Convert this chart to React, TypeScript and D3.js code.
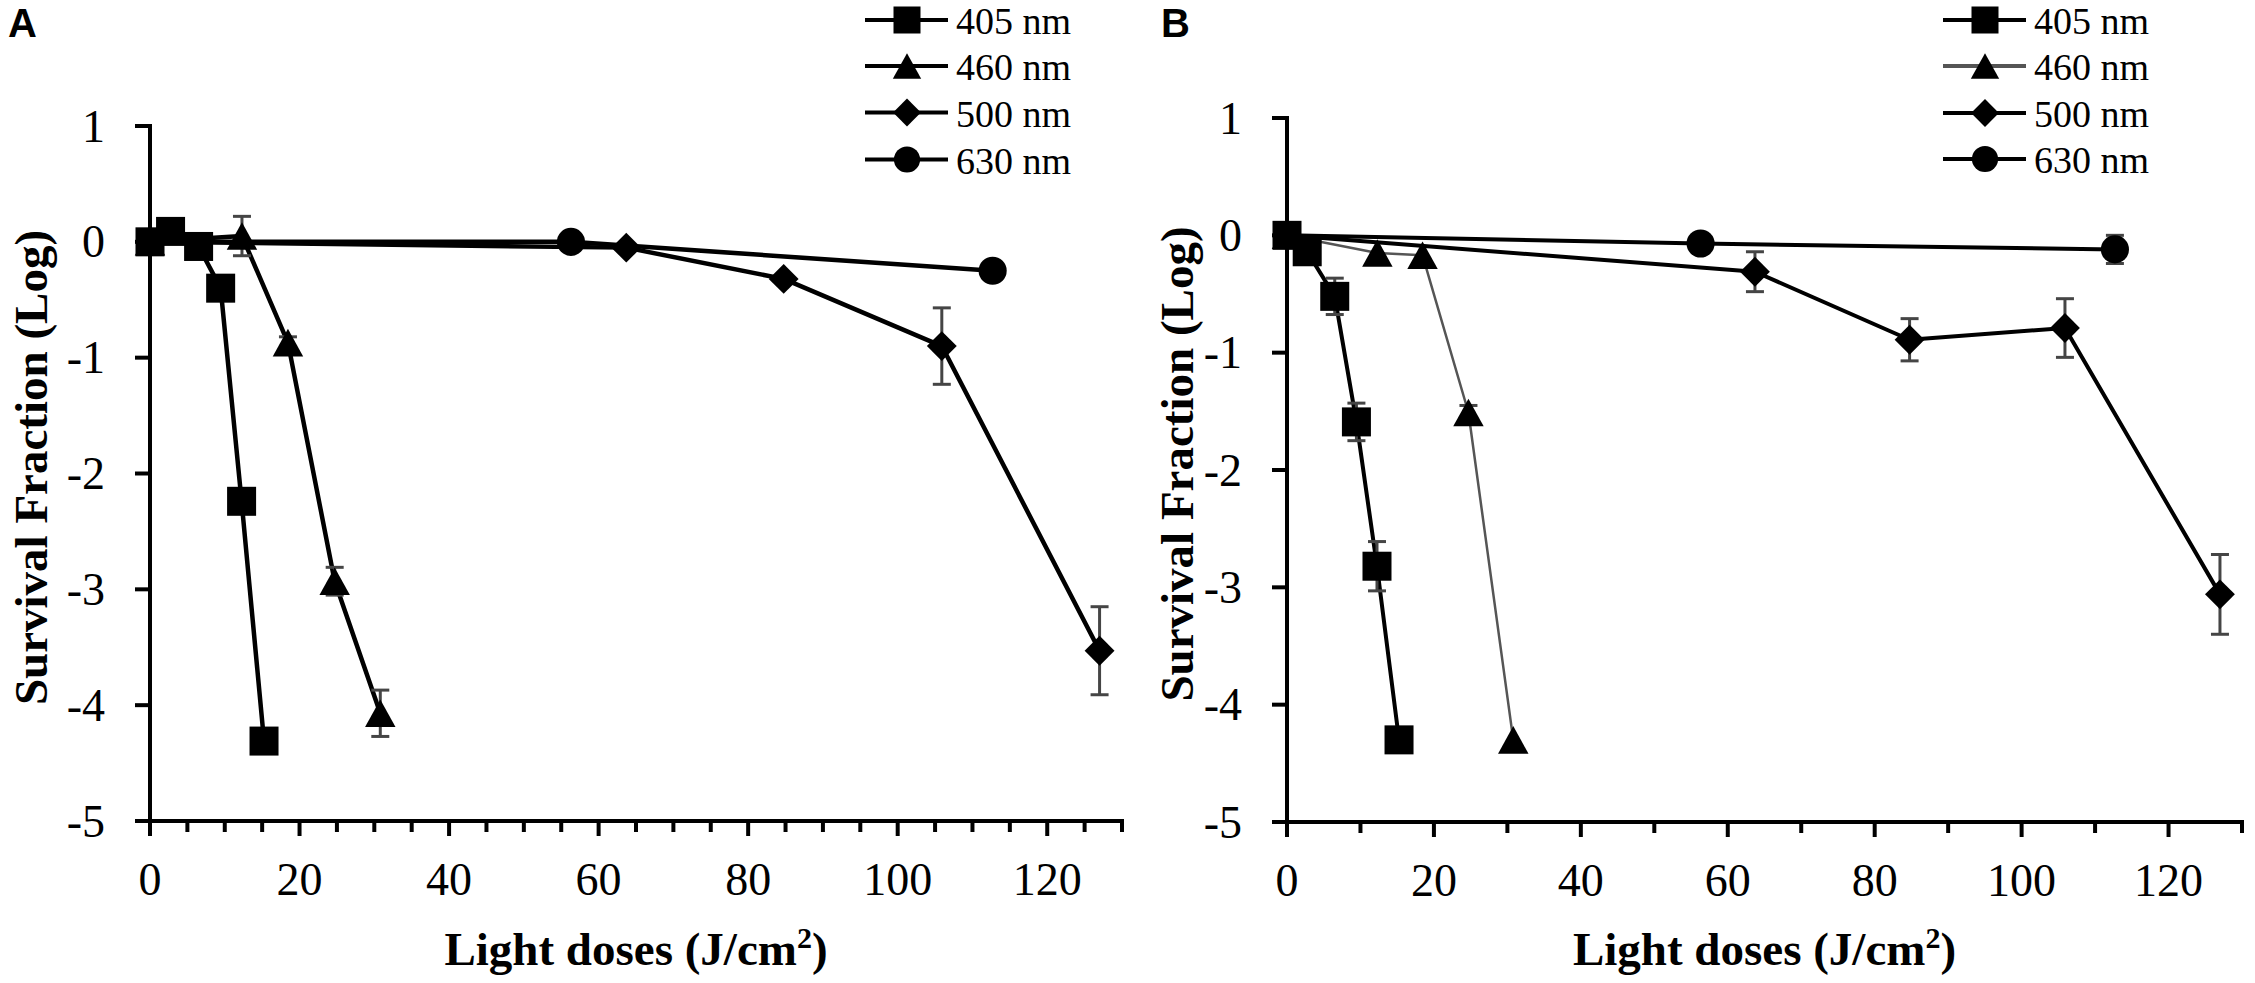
import React from 'react';
import * as d3 from 'd3';

// ---------- data ----------
const seriesNames = ['405 nm', '460 nm', '500 nm', '630 nm'];
const seriesShapes = ['square', 'triangle', 'diamond', 'circle'];

const dose405 = [0, 2.75, 6.5, 9.45, 12.25, 15.25];
const dose460 = [0, 12.3, 18.45, 24.7, 30.8];
const dose500 = [0, 63.7, 84.75, 105.9, 127];
const dose630 = [0, 56.3, 112.7];

const survA405 = [0, 0.09, -0.04, -0.4, -2.24, -4.31];
const errA405 = [0, 0, 0, 0, 0, 0];
const survA460 = [0, 0.05, -0.87, -2.93, -4.07];
const errA460 = [0, 0.17, 0.05, 0.12, 0.2];
const survA500 = [0, -0.05, -0.32, -0.9, -3.53];
const errA500 = [0, 0, 0.03, 0.33, 0.38];
const survA630 = [0, 0, -0.25];
const errA630 = [0, 0, 0];

const survB405 = [0, -0.14, -0.52, -1.59, -2.82, -4.3];
const errB405 = [0, 0, 0.155, 0.16, 0.21, 0];
const survB460 = [0, -0.15, -0.17, -1.51, -4.3];
const errB460 = [0, 0, 0, 0.06, 0];
const survB500 = [0, -0.31, -0.89, -0.79, -3.06];
const errB500 = [0, 0.17, 0.18, 0.25, 0.34];
const survB630 = [0, -0.07, -0.12];
const errB630 = [0, 0, 0.12];

const xMajorTicks = [0, 20, 40, 60, 80, 100, 120];
const yTicks = [1, 0, -1, -2, -3, -4, -5];
const xDomain = [0, 130];
const yDomain = [-5, 1];

const doses = [dose405, dose460, dose500, dose630];

// ---------- drawing helpers ----------
const SERIF = '"Liberation Serif", "Times New Roman", serif';
const SANS = '"Liberation Sans", Arial, sans-serif';
const ERR_COLOR = '#454545';

function Marker({ shape, x, y, s }: { shape: string; x: number; y: number; s: number }) {
  const h = s / 2;
  if (shape === 'square') return <rect x={x - h} y={y - h} width={s} height={s} fill="#000" />;
  if (shape === 'triangle')
    return <path d={`M${x},${y - h * 0.95}L${x + h * 1.05},${y + h * 0.95}L${x - h * 1.05},${y + h * 0.95}Z`} fill="#000" />;
  if (shape === 'diamond')
    return <path d={`M${x},${y - h * 1.03}L${x + h * 1.03},${y}L${x},${y + h * 1.03}L${x - h * 1.03},${y}Z`} fill="#000" />;
  return <circle cx={x} cy={y} r={h * 0.97} fill="#000" />;
}

type PanelProps = {
  letter: string;
  letterX: number;
  x0: number;
  x1: number;
  yTop: number;
  yBot: number;
  minorStep: number;
  surv: number[][];
  errs: number[][];
  lineColors: string[];
  lineWidths: number[];
  legendX: number;
  legendRows: number[];
  yTitleX: number;
};

function Panel(p: PanelProps) {
  const x = d3.scaleLinear().domain(xDomain).range([p.x0, p.x1]);
  const y = d3.scaleLinear().domain(yDomain).range([p.yBot, p.yTop]);
  const minorTicks = d3.range(0, 130 + 0.001, p.minorStep).filter((v) => v % 20 !== 0);
  const line = d3
    .line<[number, number]>()
    .x((d) => x(d[0]))
    .y((d) => y(d[1]));
  const axisW = 4;
  const mSize = 29;

  return (
    <g>
      <text x={p.letterX} y={37} fontFamily={SANS} fontWeight="bold" fontSize={40}>
        {p.letter}
      </text>

      {/* series lines */}
      {p.surv.map((vals, i) => (
        <path
          key={'l' + i}
          d={line(vals.map((v, j) => [doses[i][j], v]) as [number, number][]) || ''}
          fill="none"
          stroke={p.lineColors[i]}
          strokeWidth={p.lineWidths[i]}
          strokeLinejoin="round"
        />
      ))}

      {/* error bars */}
      {p.surv.map((vals, i) =>
        vals.map((v, j) => {
          const e = p.errs[i][j];
          if (!e) return null;
          const cx = x(doses[i][j]);
          return (
            <g key={`e${i}-${j}`} stroke={ERR_COLOR} strokeWidth={3}>
              <line x1={cx} x2={cx} y1={y(v + e)} y2={y(v - e)} />
              <line x1={cx - 9} x2={cx + 9} y1={y(v + e)} y2={y(v + e)} />
              <line x1={cx - 9} x2={cx + 9} y1={y(v - e)} y2={y(v - e)} />
            </g>
          );
        })
      )}

      {/* markers */}
      {p.surv.map((vals, i) =>
        vals.map((v, j) => (
          <Marker key={`m${i}-${j}`} shape={seriesShapes[i]} x={x(doses[i][j])} y={y(v)} s={mSize} />
        ))
      )}

      {/* axes */}
      <line x1={p.x0} x2={p.x0} y1={y(1) - axisW / 2} y2={p.yBot + axisW / 2} stroke="#000" strokeWidth={axisW} />
      <line x1={p.x0 - 15} x2={p.x1 + axisW / 2} y1={p.yBot} y2={p.yBot} stroke="#000" strokeWidth={axisW} />
      {yTicks.map((t) => (
        <g key={'yt' + t}>
          <line x1={p.x0 - 15} x2={p.x0} y1={y(t)} y2={y(t)} stroke="#000" strokeWidth={axisW} />
          <text
            x={p.x0 - 45}
            y={y(t)}
            dy="0.34em"
            textAnchor="end"
            fontFamily={SERIF}
            fontSize={46}
          >
            {String(t)}
          </text>
        </g>
      ))}
      {xMajorTicks.map((t) => (
        <g key={'xt' + t}>
          <line x1={x(t)} x2={x(t)} y1={p.yBot} y2={p.yBot + 15} stroke="#000" strokeWidth={axisW} />
          <text x={x(t)} y={p.yBot + 74} textAnchor="middle" fontFamily={SERIF} fontSize={46}>
            {String(t)}
          </text>
        </g>
      ))}
      {minorTicks.map((t) => (
        <line key={'xm' + t} x1={x(t)} x2={x(t)} y1={p.yBot} y2={p.yBot + 11} stroke="#000" strokeWidth={axisW} />
      ))}

      {/* axis titles */}
      <text
        x={(p.x0 + p.x1) / 2}
        y={965}
        textAnchor="middle"
        fontFamily={SERIF}
        fontWeight="bold"
        fontSize={47}
      >
        Light doses (J/cm
        <tspan fontSize={30} dy={-17}>
          2
        </tspan>
        <tspan dy={17}>)</tspan>
      </text>
      <text
        transform={`translate(${p.yTitleX},${(y(1) + p.yBot) / 2 - 6}) rotate(-90)`}
        textAnchor="middle"
        dy="0.35em"
        fontFamily={SERIF}
        fontWeight="bold"
        fontSize={47}
      >
        Survival Fraction (Log)
      </text>

      {/* legend */}
      {seriesNames.map((name, i) => {
        const ly = p.legendRows[i];
        return (
          <g key={'lg' + i}>
            <line
              x1={p.legendX - 42}
              x2={p.legendX + 41}
              y1={ly}
              y2={ly}
              stroke={p.lineColors[i]}
              strokeWidth={4}
            />
            <Marker shape={seriesShapes[i]} x={p.legendX} y={ly} s={27} />
            <text x={p.legendX + 49} y={ly + 14} fontFamily={SERIF} fontSize={38}>
              {name}
            </text>
          </g>
        );
      })}
    </g>
  );
}

export default function App() {
  React.useEffect(() => {
    document.body.style.margin = '0';
  }, []);
  return (
    <svg
      width={2255}
      height={983}
      viewBox="0 0 2255 983"
      style={{ position: 'absolute', left: 0, top: 0, background: '#fff' }}
    >
      <rect x={0} y={0} width={2255} height={983} fill="#fff" />
      <Panel
        letter="A"
        letterX={8}
        x0={150}
        x1={1122}
        yTop={126}
        yBot={821}
        minorStep={5}
        surv={[survA405, survA460, survA500, survA630]}
        errs={[errA405, errA460, errA500, errA630]}
        lineColors={['#000', '#000', '#000', '#000']}
        lineWidths={[4.5, 4.5, 4.5, 4.5]}
        legendX={907}
        legendRows={[20, 66, 112.5, 159.5]}
        yTitleX={31}
      />
      <Panel
        letter="B"
        letterX={1161}
        x0={1287}
        x1={2242}
        yTop={118}
        yBot={822}
        minorStep={10}
        surv={[survB405, survB460, survB500, survB630]}
        errs={[errB405, errB460, errB500, errB630]}
        lineColors={['#000', '#555', '#000', '#000']}
        lineWidths={[4, 2.5, 4, 4]}
        legendX={1985}
        legendRows={[20, 66, 113, 159]}
        yTitleX={1177}
      />
    </svg>
  );
}
